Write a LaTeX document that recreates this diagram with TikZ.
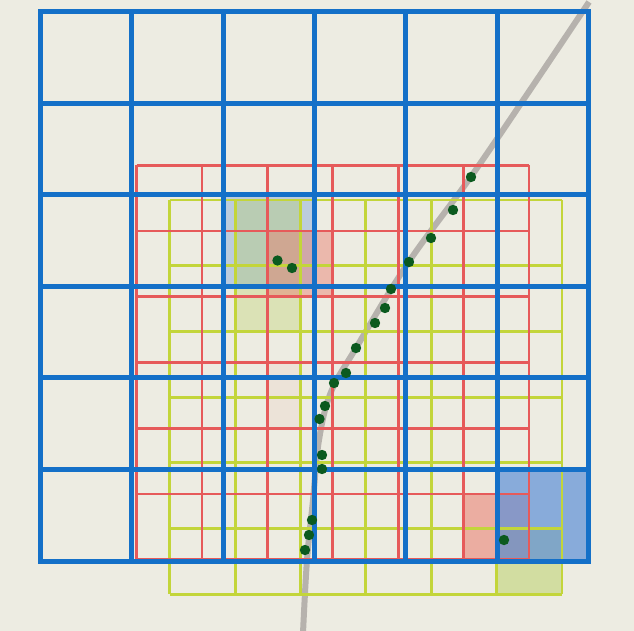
\documentclass[tikz,border=0pt]{standalone}
\definecolor{bg}{HTML}{EDECE2}
\definecolor{gblue}{HTML}{1470C8}
\definecolor{gred}{HTML}{E65A5A}
\definecolor{gyel}{HTML}{C3D53A}
\definecolor{dotg}{HTML}{0B5A1F}
\definecolor{trail}{HTML}{ADA9A4}
\definecolor{fblue}{HTML}{5E90D8}
\definecolor{fred}{HTML}{EA7A6C}
\definecolor{fgreen}{HTML}{B3CC52}
\tikzset{
  bluegrid/.style={gblue, line width=5pt, line cap=rect},
  redgrid/.style={gred, line width=2.8pt},
  yelgrid/.style={gyel, line width=2.9pt},
  trailline/.style={trail, line width=6pt, opacity=0.85},
  gdot/.style={fill=dotg},
}
\begin{document}
\begin{tikzpicture}[x=1pt,y=-1pt]
\fill[bg] (0,0) rectangle (634,631);
\useasboundingbox (0,0) rectangle (634,631);
% trail
\draw[trailline] plot[smooth, tension=0.6] coordinates {(589,2) (530,90) (470,178) (408,263) (356,348) (331,392) (319,440) (313,500) (307,560) (303,633)};
% fills upper-left
\fill[fblue, opacity=0.34] (223.2,194.7) rectangle (314.6,286.3);
\fill[fgreen, opacity=0.3] (235.2,200) rectangle (300.6,331.4);
\fill[fred, opacity=0.45] (267.3,231) rectangle (332.7,296.8);
\fill[fred, opacity=0.08] (267.3,362.5) rectangle (300.6,428.3);
% fills lower-right
\fill[fgreen, opacity=0.45] (497.4,528.5) rectangle (562,594.2);
\fill[fred, opacity=0.55] (463.5,494) rectangle (528.9,559.8);
\fill[fblue, opacity=0.7] (497.4,469.9) rectangle (588.6,561.4);
% yellow-green grid
\foreach \i in {0,...,6}{
  \draw[yelgrid] ({169.8+65.37*\i},200) -- ({169.8+65.37*\i},594.2);
  \draw[yelgrid] (169.8,{200+65.7*\i}) -- (562,{200+65.7*\i});
}
% red grid
\foreach \i in {0,...,6}{
  \draw[redgrid] ({136.5+65.4*\i},165.3) -- ({136.5+65.4*\i},559.8);
  \draw[redgrid] (136.5,{165.3+65.75*\i}) -- (528.9,{165.3+65.75*\i});
}
% blue grid
\foreach \i in {0,...,6}{
  \draw[bluegrid] ({40.5+91.35*\i},11.5) -- ({40.5+91.35*\i},561.1);
  \draw[bluegrid] (40.5,{11.5+91.6*\i}) -- (588.6,{11.5+91.6*\i});
}
% dots
\foreach \p in {(471,177),(453,210),(431,238),(409,262),(391,289),(385,308),(375,323),(356,348),(346,373),(334,383),(325,406),(319.5,419),(322,455),(322,469),(312,520),(309,535),(305,550),(277.5,260.5),(292,268),(504,540)}{
  \fill[gdot] \p circle (5.2);
}
\end{tikzpicture}
\end{document}
